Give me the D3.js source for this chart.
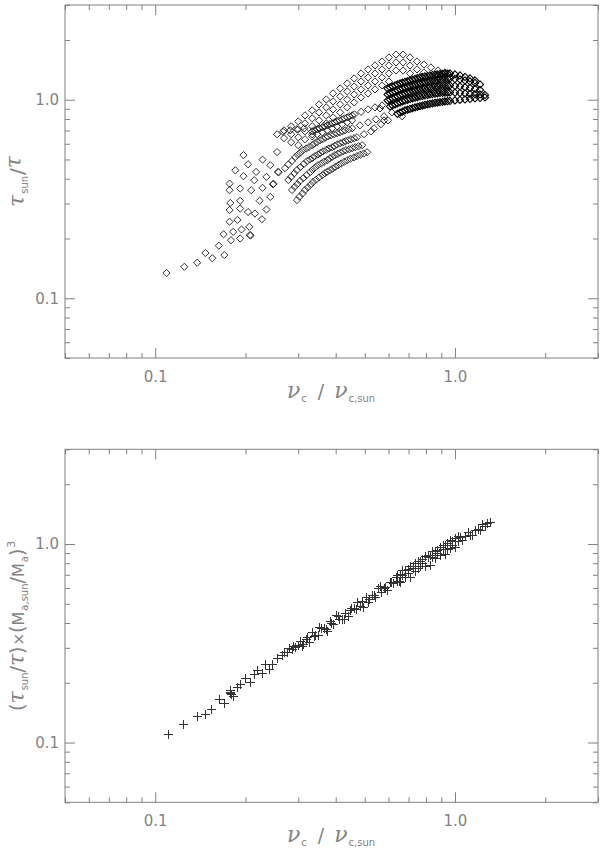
<!DOCTYPE html>
<html>
<head>
<meta charset="utf-8">
<script src="https://cdn.jsdelivr.net/npm/d3@7"></script>
<style>
  body { margin: 0; background: #fff; }
</style>
</head>
<body>
<div id="chart"></div>
<script>

// ---- data ----

var majorTicks = [0.1, 1];
var minorTicks = [0.05, 0.06, 0.07, 0.08, 0.09, 0.2, 0.3, 0.4, 0.5, 0.6, 0.7, 0.8, 0.9, 2, 3];

// top panel: tau_sun/tau vs nu_c/nu_c,sun (diamonds)
var cloudLeft = [
  [0.109,0.134],[0.125,0.144],[0.138,0.151],[0.147,0.169],[0.155,0.159],[0.163,0.184],[0.170,0.165],
  [0.169,0.210],[0.179,0.196],[0.177,0.243],[0.182,0.216],[0.188,0.248],[0.192,0.200],[0.194,0.222],
  [0.206,0.229],[0.207,0.208],[0.208,0.207],[0.177,0.278],[0.178,0.302],[0.192,0.283],[0.192,0.310],
  [0.204,0.272],[0.215,0.267],[0.227,0.250],[0.223,0.310],[0.235,0.280],[0.242,0.324],[0.177,0.350],
  [0.177,0.378],[0.192,0.357],[0.185,0.441],[0.197,0.412],[0.209,0.350],[0.214,0.393],[0.217,0.433],
  [0.228,0.360],[0.235,0.409],[0.204,0.473],[0.197,0.526],[0.228,0.499],[0.242,0.468],[0.247,0.375],
  [0.248,0.377],[0.255,0.545],[0.257,0.433],[0.258,0.431]
];

// sparse arcs share one x grid
var arcX = [0.255,0.269,0.284,0.300,0.316,0.334,0.352,0.372,0.392,0.414,0.437,0.461,0.486,
            0.513,0.541,0.571,0.602,0.636,0.671,0.708,0.747,0.788,0.831,0.878,0.926];
var arcA1 = [0.670,0.701,0.735,0.778,0.834,0.884,0.947,1.003,1.076,1.140,1.208,1.280,1.356,
             1.421,1.488,1.558,1.632,1.689,1.689,1.632,1.558,1.505,1.454,1.404,1.372];
var arcA2 = [null,0.640,0.670,0.710,0.760,0.806,0.863,0.915,0.981,1.039,1.101,1.166,1.236,
             1.295,1.356,1.421,1.488,1.541,1.541,1.488,1.421,1.372,null,null,null];
var arcA3 = [null,null,0.611,0.647,0.693,0.735,0.787,0.834,0.894,0.947,1.003,1.063,1.127,
             1.180,1.236,1.295,1.356,1.404,1.404,1.356,null,null,null,null,null];
var arcA4 = [null,null,null,0.590,0.632,0.670,0.718,0.760,0.815,0.863,0.915,0.969,1.027,
             1.076,1.127,1.180,1.236,null,null,null,null,null,null,null,null];

// the darker smudge track across the middle of the fan
var trackS = [[0.267,0.689],[0.282,0.701],[0.297,0.710],[0.314,0.718],
  [0.334,0.693],[0.340,0.701],[0.347,0.710],[0.354,0.718],[0.361,0.726],[0.368,0.735],[0.375,0.743],
  [0.382,0.752],[0.389,0.760],[0.397,0.769],[0.404,0.778],[0.412,0.787],[0.420,0.796],[0.428,0.806],
  [0.437,0.815],[0.445,0.825],[0.454,0.834],[0.462,0.844],
  [0.486,0.869],[0.513,0.894],[0.541,0.915],[0.571,0.936]];
var trackS2 = [[0.334,0.654],[0.347,0.670],[0.361,0.685],[0.375,0.701],[0.389,0.718],
  [0.404,0.735],[0.420,0.752],[0.437,0.769],[0.454,0.787]];

// hatched (densely sampled) arcs at the lower edge of the fan
var arcH1 = [[0.271,0.452],[0.278,0.472],[0.286,0.492],[0.293,0.514],[0.299,0.528],[0.305,0.542],
  [0.311,0.557],[0.319,0.568],[0.326,0.578],[0.334,0.590],[0.340,0.602],[0.347,0.613],[0.355,0.625],
  [0.363,0.634],[0.370,0.645],[0.377,0.654],[0.386,0.662],[0.395,0.670],[0.404,0.678],[0.413,0.685],
  [0.421,0.693],[0.430,0.701],[0.442,0.710],[0.454,0.718],
  [0.482,0.743],[0.513,0.769],[0.545,0.796],[0.580,0.825]];
var arcH2 = [[0.278,0.394],[0.284,0.409],[0.291,0.426],[0.297,0.442],[0.305,0.458],[0.313,0.474],
  [0.321,0.491],[0.328,0.500],[0.335,0.510],[0.341,0.520],[0.349,0.530],[0.356,0.540],[0.363,0.550],
  [0.372,0.559],[0.380,0.568],[0.389,0.576],[0.397,0.585],[0.405,0.595],[0.414,0.604],[0.423,0.611],
  [0.431,0.618],[0.440,0.625],[0.450,0.632],[0.461,0.640],[0.471,0.647],[0.497,0.670],[0.525,0.693]];
var arcH3 = [[0.286,0.351],[0.292,0.364],[0.298,0.376],[0.304,0.390],[0.312,0.403],[0.320,0.417],
  [0.329,0.432],[0.335,0.444],[0.342,0.456],[0.349,0.468],[0.358,0.477],[0.366,0.487],[0.375,0.496],
  [0.382,0.506],[0.390,0.516],[0.398,0.526],[0.407,0.534],[0.415,0.542],[0.424,0.550],[0.433,0.557],
  [0.444,0.563],[0.454,0.570],[0.465,0.576],[0.477,0.583],[0.490,0.590]];
var arcH4 = [[0.297,0.312],[0.303,0.325],[0.310,0.337],[0.316,0.351],[0.323,0.362],[0.330,0.373],
  [0.336,0.385],[0.344,0.395],[0.352,0.406],[0.361,0.417],[0.368,0.426],[0.375,0.434],[0.383,0.442],
  [0.391,0.450],[0.399,0.459],[0.408,0.468],[0.417,0.477],[0.427,0.487],[0.437,0.496],[0.448,0.504],
  [0.460,0.512],[0.471,0.520],[0.483,0.528],[0.496,0.536],[0.509,0.544]];

var loose = [[0.562,0.904],[0.616,0.863],[0.666,0.825],[0.580,0.787],
  [0.537,0.718],[0.566,0.752],[0.598,0.787]];

// dense bands on the right share one x grid
var bandX = [0.596,0.607,0.619,0.631,0.643,0.656,0.668,0.681,0.695,0.708,0.722,0.736,0.750,0.764,0.779,0.794,
             0.810,0.825,0.841,0.858,0.874,0.891,0.909,0.926,0.944,0.962,1.000,1.039,1.080,1.122,1.166,1.212,1.259];
var bandB1 = [1.140,1.153,1.166,1.180,1.194,1.208,1.218,1.229,1.239,1.250,1.261,1.272,1.284,1.295,1.302,1.310,
              1.317,1.325,1.331,1.336,1.341,1.348,1.349,1.352,1.354,1.356,1.340,1.325,1.302,1.280,1.250,null,null];
var bandB2 = [1.063,1.076,1.088,1.101,1.114,1.127,1.139,1.149,1.161,1.173,1.181,1.190,1.199,1.208,1.216,1.225,
              1.234,1.243,1.248,1.253,1.259,1.265,1.269,1.272,1.276,1.280,1.272,1.265,1.250,1.236,1.215,1.194,null];
var bandB3 = [0.992,1.003,1.015,1.027,1.039,1.051,1.062,1.072,1.083,1.094,1.102,1.111,1.119,1.127,1.133,1.140,
              1.146,1.153,1.158,1.162,1.167,1.173,1.174,1.176,1.178,1.180,1.173,1.166,1.156,1.146,1.133,1.120,null];
var bandB4 = [null,0.925,0.936,0.947,0.958,0.969,0.980,0.989,0.999,1.009,1.016,1.024,1.032,1.039,1.045,1.051,
              1.057,1.063,1.068,1.072,1.077,1.082,1.083,1.085,1.087,1.088,1.085,1.082,1.076,1.070,1.067,1.063,1.057];
var bandB5 = [null,null,null,null,0.849,0.861,0.871,0.884,0.891,0.899,0.906,0.915,0.921,0.928,0.935,0.941,
              0.947,0.952,0.958,0.963,0.968,0.972,0.976,0.981,0.984,0.986,0.992,0.998,1.003,1.009,1.015,1.021,1.027];

// bottom panel: scaled ratio vs nu_c/nu_c,sun (crosses)
var crossLeft = [
  [0.110,0.111],[0.124,0.124],[0.138,0.136],[0.147,0.139],[0.153,0.148],[0.163,0.165],[0.170,0.158],
  [0.177,0.177],[0.177,0.180],[0.179,0.176],[0.178,0.184],[0.182,0.171],[0.188,0.191],[0.192,0.198],
  [0.200,0.211],[0.207,0.202],[0.214,0.221],[0.218,0.232],[0.227,0.223],[0.233,0.248],[0.239,0.236],
  [0.245,0.250],[0.254,0.268],[0.264,0.276],[0.269,0.285],[0.275,0.287],[0.280,0.298],[0.285,0.295],
  [0.289,0.306],[0.293,0.304],[0.300,0.310]
];
var crossMid = [
  [0.304,0.325],[0.311,0.315],[0.318,0.333],[0.326,0.322],[0.334,0.362],[0.341,0.349],[0.349,0.349],
  [0.357,0.379],[0.366,0.379],[0.375,0.366],[0.383,0.411],[0.392,0.397],[0.401,0.441],[0.411,0.420],
  [0.420,0.420],[0.430,0.451],[0.440,0.435],[0.450,0.478],[0.461,0.478],[0.471,0.512],[0.482,0.489],
  [0.494,0.483],[0.505,0.542],[0.517,0.530],[0.529,0.555],[0.541,0.542],[0.554,0.603],[0.567,0.575],
  [0.580,0.603],[0.593,0.588],[0.607,0.646],[0.621,0.639],[0.636,0.685],[0.651,0.654],
  [0.308,0.307],[0.322,0.341],[0.338,0.345],[0.353,0.383],[0.370,0.375],[0.387,0.402],[0.406,0.435],
  [0.425,0.420],[0.445,0.467],[0.466,0.472],[0.488,0.518],[0.511,0.512],[0.535,0.556],[0.560,0.611],
  [0.586,0.604],[0.613,0.647],[0.643,0.654]
];
var crossUpper = [
  [0.643,0.701],[0.656,0.706],[0.668,0.737],[0.681,0.742],[0.695,0.747],[0.708,0.779],[0.722,0.775],
  [0.736,0.799],[0.750,0.823],[0.764,0.820],[0.779,0.845],[0.794,0.870],[0.810,0.876],[0.825,0.882],
  [0.841,0.920],[0.858,0.927],[0.874,0.933],[0.891,0.961],[0.909,0.990],[0.926,0.986],[0.944,1.016],
  [0.962,1.047],[0.981,1.040],[1.000,1.070],[1.020,1.101]
];
var crossCore = [
  [0.668,0.695],[0.695,0.713],[0.722,0.757],[0.750,0.759],[0.779,0.806],[0.810,0.856],
  [0.841,0.858],[0.874,0.901],[0.909,0.946],[0.944,0.948],[0.981,0.993],[1.020,1.038]
];
var crossLower = [
  [0.656,0.644],[0.681,0.684],[0.708,0.685],[0.736,0.728],[0.764,0.773],[0.794,0.775],
  [0.825,0.786],[0.858,0.854],[0.891,0.876],[0.926,0.888],[0.962,0.954],[1.000,0.964]
];
var crossTail = [
  [1.039,1.082],[1.059,1.049],[1.080,1.092],[1.101,1.150],[1.122,1.116],[1.144,1.109],[1.166,1.182],
  [1.189,1.187],[1.212,1.179],[1.235,1.257],[1.259,1.234],[1.283,1.283],[1.308,1.291]
];

// ---- layout ----

var W = 600, H = 850;
var left = 65, right = 598;
var panelH = 353;
var tops = [5, 449.3];
var grey = "#808080";
var textGrey = "#838383";

var svg = d3.select("#chart")
    .append("svg")
    .attr("width", W)
    .attr("height", H)
    .style("background", "#fff");

var x = d3.scaleLog().domain([0.05, 3]).range([left, right]);

function gridPoints(xs, ys) {
    var out = [];
    for (var i = 0; i < xs.length; i++) {
        if (ys[i] != null) out.push([xs[i], ys[i]]);
    }
    return out;
}

function styleAxis(g) {
    g.select(".domain").remove();
    g.selectAll(".tick line").attr("stroke", grey);
    g.selectAll(".tick text")
        .attr("fill", textGrey)
        .style("font-family", "'DejaVu Sans', sans-serif")
        .style("font-size", "15px");
}

function drawFrame(top, y) {
    var bottom = top + panelH;
    var g = svg.append("g");
    var fmt = d3.format(".1f");

    // major ticks with labels, bottom & left
    g.append("g").attr("transform", "translate(0," + bottom + ")")
        .call(d3.axisBottom(x).tickValues(majorTicks).tickSize(-10).tickPadding(13).tickFormat(fmt))
        .call(styleAxis);
    g.append("g").attr("transform", "translate(" + left + ",0)")
        .call(d3.axisLeft(y).tickValues(majorTicks).tickSize(-10).tickPadding(6).tickFormat(fmt))
        .call(styleAxis);
    // top & right mirror ticks
    g.append("g").attr("transform", "translate(0," + top + ")")
        .call(d3.axisTop(x).tickValues(majorTicks).tickSize(-10).tickFormat(""))
        .call(styleAxis);
    g.append("g").attr("transform", "translate(" + right + ",0)")
        .call(d3.axisRight(y).tickValues(majorTicks).tickSize(-10).tickFormat(""))
        .call(styleAxis);

    // minor ticks on all four sides
    g.append("g").attr("transform", "translate(0," + bottom + ")")
        .call(d3.axisBottom(x).tickValues(minorTicks).tickSize(-5).tickFormat("")).call(styleAxis);
    g.append("g").attr("transform", "translate(0," + top + ")")
        .call(d3.axisTop(x).tickValues(minorTicks).tickSize(-5).tickFormat("")).call(styleAxis);
    g.append("g").attr("transform", "translate(" + left + ",0)")
        .call(d3.axisLeft(y).tickValues(minorTicks).tickSize(-5).tickFormat("")).call(styleAxis);
    g.append("g").attr("transform", "translate(" + right + ",0)")
        .call(d3.axisRight(y).tickValues(minorTicks).tickSize(-5).tickFormat("")).call(styleAxis);

    g.append("rect")
        .attr("x", left).attr("y", top)
        .attr("width", right - left).attr("height", panelH)
        .attr("fill", "none")
        .attr("stroke", grey)
        .attr("stroke-width", 1);
}

// text helper: list of [string, size, dy, dx, greek]
function richText(node, parts) {
    parts.forEach(function (p) {
        var t = node.append("tspan")
            .text(p[0])
            .style("font-size", p[1] + "px");
        if (p[2]) t.attr("dy", p[2]);
        if (p[3]) t.attr("dx", p[3]);
        if (p[4]) t.style("font-family", "'DejaVu Serif', serif").style("font-style", "italic");
    });
}

function xTitle(top) {
    var t = svg.append("text")
        .attr("x", 331)
        .attr("y", top + 393)
        .attr("text-anchor", "middle")
        .attr("fill", textGrey)
        .style("font-family", "'DejaVu Sans', sans-serif");
    richText(t, [
        ["\u03bd", 22, 0, 0, true],
        ["c", 10, 4, 1],
        ["/", 19, -4, 11],
        ["\u03bd", 22, 0, 10, true],
        ["c,sun", 10, 4, 1]
    ]);
}

// ---- top panel ----

var yTop = d3.scaleLog().domain([0.05, 3]).range([tops[0] + panelH, tops[0]]);
drawFrame(tops[0], yTop);

var diamondPath = "M0,-3.6L3.6,0L0,3.6L-3.6,0Z";
var topPoints = [].concat(
    cloudLeft,
    gridPoints(arcX, arcA1), gridPoints(arcX, arcA2), gridPoints(arcX, arcA3), gridPoints(arcX, arcA4),
    trackS, trackS2, arcH1, arcH2, arcH3, arcH4, loose
);
var bandPoints = [].concat(
    gridPoints(bandX, bandB1), gridPoints(bandX, bandB2), gridPoints(bandX, bandB3),
    gridPoints(bandX, bandB4), gridPoints(bandX, bandB5)
);

function drawDiamonds(data, colour, width) {
    svg.append("g").selectAll(".dia")
        .data(data)
        .enter().append("path")
        .attr("class", "dia")
        .attr("d", diamondPath)
        .attr("transform", function (d) { return "translate(" + x(d[0]) + "," + yTop(d[1]) + ")"; })
        .attr("fill", "none")
        .attr("stroke", colour)
        .attr("stroke-width", width);
}
drawDiamonds(topPoints, "#1a1a1a", 0.9);
drawDiamonds(bandPoints, "#000", 1.1);

var t1 = svg.append("text")
    .attr("transform", "translate(24," + (tops[0] + panelH / 2) + ") rotate(-90)")
    .attr("text-anchor", "middle")
    .attr("fill", textGrey)
    .style("font-family", "'DejaVu Sans', sans-serif");
richText(t1, [
    ["\u03c4", 22, 0, 0, true],
    ["sun", 10, 4, 1],
    ["/", 20, -4, 1],
    ["\u03c4", 22, -3, 0, true]
]);
xTitle(tops[0]);

// ---- bottom panel ----

var yBot = d3.scaleLog().domain([0.05, 3]).range([tops[1] + panelH, tops[1]]);
drawFrame(tops[1], yBot);

var crossPath = "M-4.5,0H4.5M0,-4.5V4.5";
var botPoints = [].concat(crossLeft, crossMid, crossUpper, crossCore, crossLower, crossTail);

svg.append("g").selectAll(".cross")
    .data(botPoints)
    .enter().append("path")
    .attr("class", "cross")
    .attr("d", crossPath)
    .attr("transform", function (d) {
        return "translate(" + (Math.round(x(d[0])) + 0.5) + "," + (Math.round(yBot(d[1])) + 0.5) + ")";
    })
    .attr("fill", "none")
    .attr("stroke", "#333")
    .attr("stroke-width", 1);

var t2 = svg.append("text")
    .attr("transform", "translate(24," + (tops[1] + panelH / 2) + ") rotate(-90)")
    .attr("text-anchor", "middle")
    .attr("fill", textGrey)
    .style("font-family", "'DejaVu Sans', sans-serif");
richText(t2, [
    ["(", 19, 0, 0],
    ["\u03c4", 22, 0, 0, true],
    ["sun", 10, 4, 1],
    ["/", 19, -4, 0],
    ["\u03c4", 22, 0, 0, true],
    [")", 19, 0, 0],
    ["\u00d7", 15, 0, 1],
    ["(", 19, 0, 0],
    ["M", 16, 0, 0],
    ["a,sun", 10, 4, 1],
    ["/", 19, -4, 0],
    ["M", 16, 0, 0],
    ["a", 10, 4, 1],
    [")", 19, -4, 0],
    ["3", 11, -9, 1]
]);
xTitle(tops[1]);

</script>
</body>
</html>
